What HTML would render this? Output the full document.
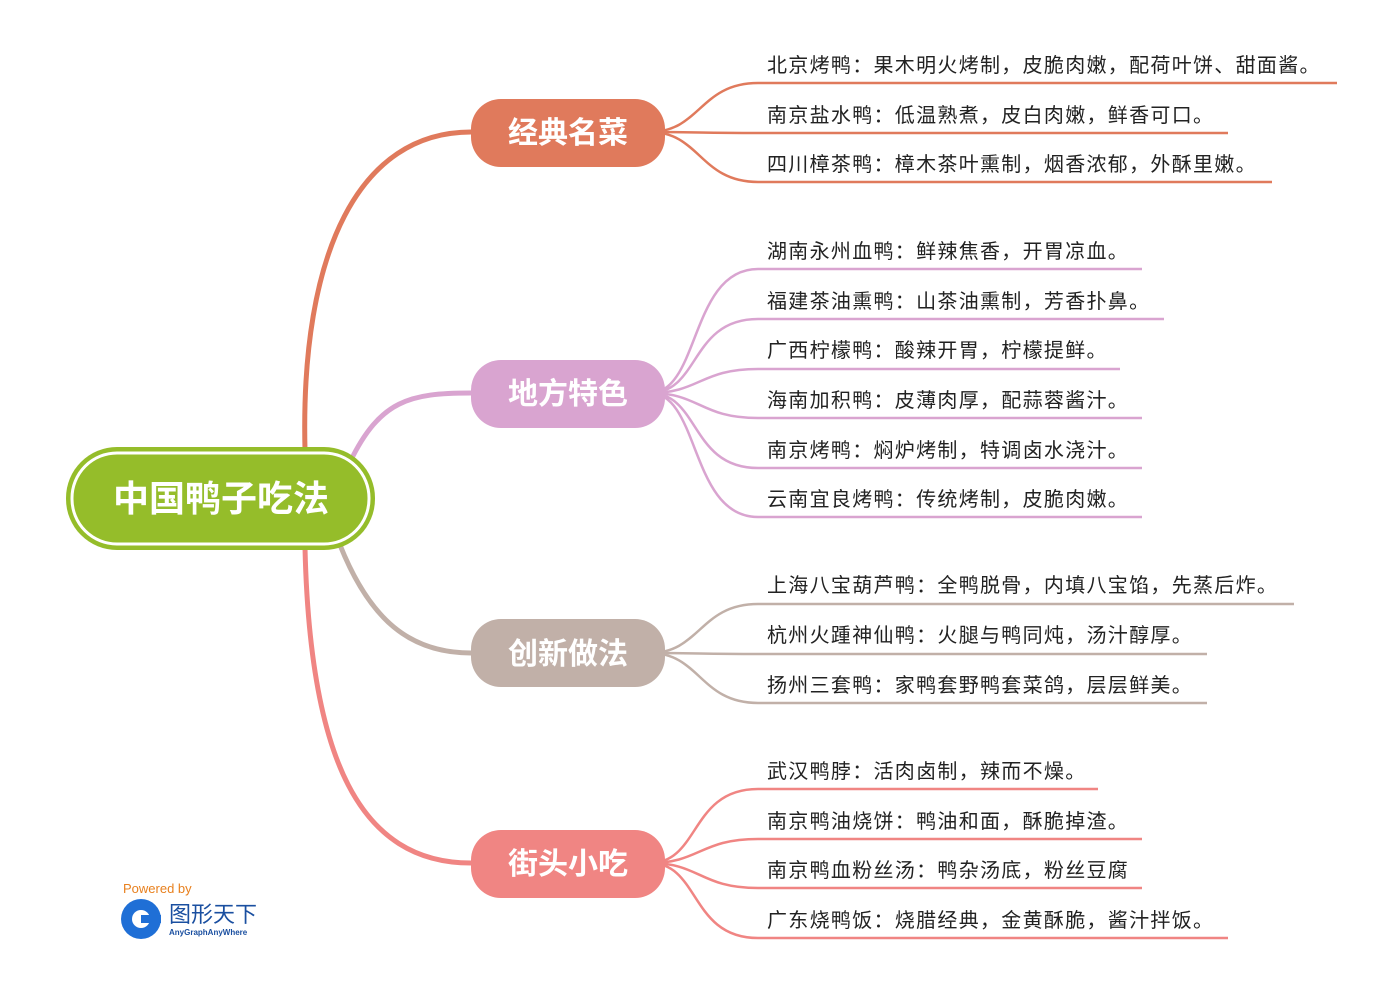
<!DOCTYPE html>
<html><head><meta charset="utf-8"><style>
html,body{margin:0;padding:0;background:#fff;}
svg{display:block;}
text{font-family:"Liberation Sans","Noto Sans CJK SC",sans-serif;}
</style></head><body>
<svg width="1400" height="986" viewBox="0 0 1400 986" xmlns="http://www.w3.org/2000/svg">
<g fill="none" stroke-linecap="round">
<path d="M305 450 C300 250, 360 132, 471 132" stroke="#e07a5c" stroke-width="5"/>
<path d="M350 462 C380 400, 410 393, 471 393" stroke="#d9a4d0" stroke-width="5"/>
<path d="M340 545 C370 620, 410 653, 471 653" stroke="#c1b0a8" stroke-width="5"/>
<path d="M305 548 C310 760, 360 863, 471 863" stroke="#f08583" stroke-width="5"/>
</g>
<g fill="none" stroke-width="2.5">
<g stroke="#e07a5c">
<path d="M650 132 C700 132,700 83,758 83 L1337 83"/>
<path d="M650 132 C700 132,700 133,758 133 L1228 133"/>
<path d="M650 132 C700 132,700 182,758 182 L1272 182"/>
</g>
<g stroke="#d9a4d0">
<path d="M650 393 C700 393,690 269,758 269 L1142 269"/>
<path d="M650 393 C700 393,690 319,758 319 L1164 319"/>
<path d="M650 393 C700 393,700 369,758 369 L1120 369"/>
<path d="M650 393 C700 393,700 418,758 418 L1142 418"/>
<path d="M650 393 C700 393,690 468,758 468 L1142 468"/>
<path d="M650 393 C700 393,690 517,758 517 L1142 517"/>
</g>
<g stroke="#c1b0a8">
<path d="M650 653 C700 653,700 604,758 604 L1294 604"/>
<path d="M650 653 C700 653,700 654,758 654 L1207 654"/>
<path d="M650 653 C700 653,700 703,758 703 L1207 703"/>
</g>
<g stroke="#f08583">
<path d="M650 863 C700 863,690 789,758 789 L1098 789"/>
<path d="M650 863 C700 863,700 839,758 839 L1142 839"/>
<path d="M650 863 C700 863,700 888,758 888 L1142 888"/>
<path d="M650 863 C700 863,690 938,758 938 L1228 938"/>
</g>
</g>
<rect x="66" y="447" width="309" height="103" rx="51" fill="#95bd2a"/>
<rect x="72" y="453" width="297" height="91" rx="45" fill="none" stroke="#fff" stroke-width="3"/>
<text x="221" y="511" font-size="36" font-weight="bold" fill="#fff" text-anchor="middle">中国鸭子吃法</text>
<g font-size="30" font-weight="bold" fill="#fff" text-anchor="middle">
<rect x="471" y="99" width="194" height="68" rx="30" fill="#e07a5c"/>
<text x="568" y="143">经典名菜</text>
<rect x="471" y="360" width="194" height="68" rx="30" fill="#d9a4d0"/>
<text x="568" y="404">地方特色</text>
<rect x="471" y="619" width="194" height="68" rx="30" fill="#c1b0a8"/>
<text x="568" y="664">创新做法</text>
<rect x="471" y="830" width="194" height="68" rx="30" fill="#f08583"/>
<text x="568" y="874">街头小吃</text>
</g>
<g font-size="20" fill="#222" letter-spacing="1.3">
<text x="767" y="72">北京烤鸭：果木明火烤制，皮脆肉嫩，配荷叶饼、甜面酱。</text>
<text x="767" y="122">南京盐水鸭：低温熟煮，皮白肉嫩，鲜香可口。</text>
<text x="767" y="171">四川樟茶鸭：樟木茶叶熏制，烟香浓郁，外酥里嫩。</text>
<text x="767" y="258">湖南永州血鸭：鲜辣焦香，开胃凉血。</text>
<text x="767" y="308">福建茶油熏鸭：山茶油熏制，芳香扑鼻。</text>
<text x="767" y="357">广西柠檬鸭：酸辣开胃，柠檬提鲜。</text>
<text x="767" y="407">海南加积鸭：皮薄肉厚，配蒜蓉酱汁。</text>
<text x="767" y="457">南京烤鸭：焖炉烤制，特调卤水浇汁。</text>
<text x="767" y="506">云南宜良烤鸭：传统烤制，皮脆肉嫩。</text>
<text x="767" y="592">上海八宝葫芦鸭：全鸭脱骨，内填八宝馅，先蒸后炸。</text>
<text x="767" y="642">杭州火踵神仙鸭：火腿与鸭同炖，汤汁醇厚。</text>
<text x="767" y="692">扬州三套鸭：家鸭套野鸭套菜鸽，层层鲜美。</text>
<text x="767" y="778">武汉鸭脖：活肉卤制，辣而不燥。</text>
<text x="767" y="828">南京鸭油烧饼：鸭油和面，酥脆掉渣。</text>
<text x="767" y="877">南京鸭血粉丝汤：鸭杂汤底，粉丝豆腐</text>
<text x="767" y="927">广东烧鸭饭：烧腊经典，金黄酥脆，酱汁拌饭。</text>
</g>
<text x="123" y="893" font-size="13" fill="#e8801e">Powered by</text>
<circle cx="141" cy="919" r="20" fill="#1f6fd6"/>
<circle cx="141" cy="919" r="9" fill="#fff"/>
<rect x="141" y="915" width="20" height="8" fill="#1f6fd6"/>
<text x="169" y="922" font-size="22" fill="#1a4fa0">图形天下</text>
<text x="169" y="935" font-size="8" font-weight="bold" fill="#1a4fa0" font-family="Liberation Serif,serif">AnyGraphAnyWhere</text>
</svg>
</body></html>
